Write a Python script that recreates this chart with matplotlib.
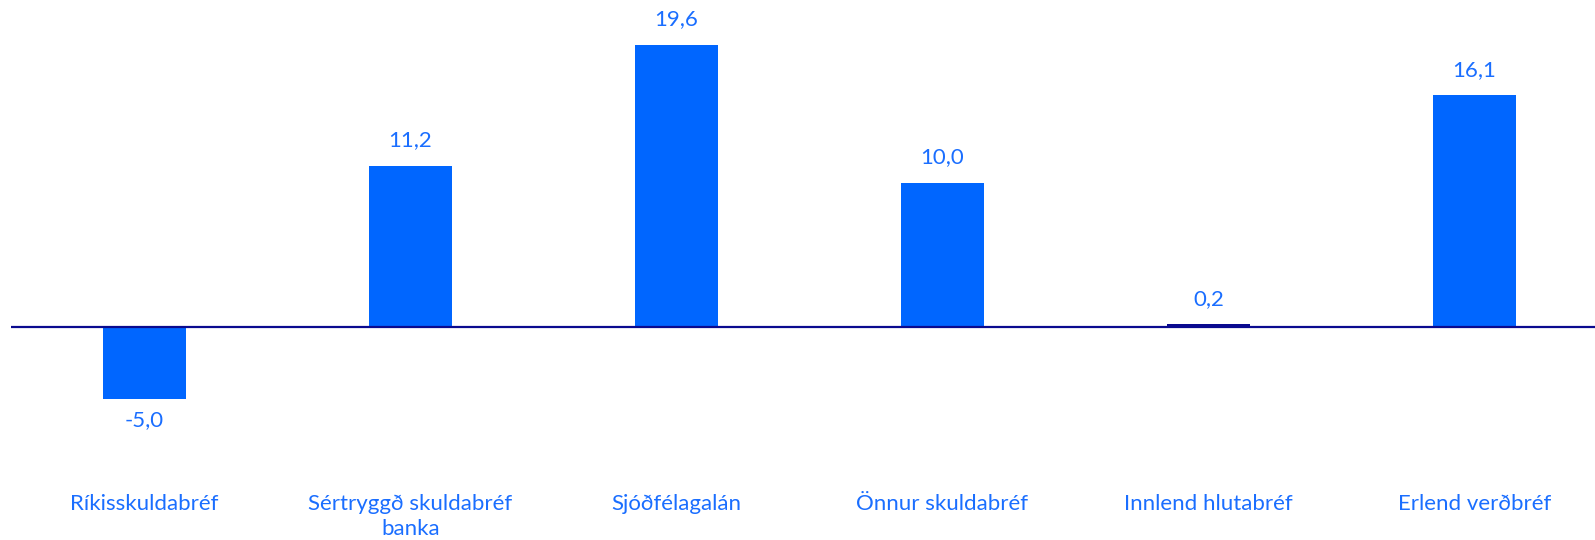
import matplotlib
matplotlib.use("Agg")
import matplotlib.pyplot as plt

# ── Gögn ─────────────────────────────────────────────────────────────
flokkar = ["Ríkisskuldabréf", "Sértryggð skuldabréf\nbanka", "Sjóðfélagalán",
           "Önnur skuldabréf", "Innlend hlutabréf", "Erlend verðbréf"]
gildi = [-5.0, 11.2, 19.6, 10.0, 0.2, 16.1]

BLAR = "#0066FF"
DOKKBLAR = "#0A0A8F"
TEXTI = "#1A6EFF"

plt.rcParams["font.family"] = ["Lato", "DejaVu Sans"]

fig = plt.figure(figsize=(15.95, 5.40), dpi=100)
ax = fig.add_axes([11.4 / 1595, 60 / 540, 1596 / 1595, 480 / 540])

x = list(range(len(flokkar)))
litir = [BLAR if abs(v) > 0.5 else DOKKBLAR for v in gildi]
ax.bar(x, gildi, width=0.315, color=litir, zorder=2)

# ── Gildi við stólpa ─────────────────────────────────────────────────
for xi, v in zip(x, gildi):
    ax.annotate(f"{v:.1f}".replace(".", ","), xy=(xi, v),
                xytext=(0, 25.5 if v >= 0 else -20.5), textcoords="offset pixels",
                ha="center", va="center", color=TEXTI, fontsize=16)

ax.axhline(0, color=DOKKBLAR, linewidth=1.6, zorder=3)

ax.set_xlim(-0.5, len(flokkar) - 0.5)
ax.set_ylim(-10.6, 22.7)
ax.set_xticks(x)
ax.set_xticklabels(flokkar, color=TEXTI, fontsize=16, linespacing=1.35)
ax.tick_params(axis="x", length=0, pad=10)
ax.set_yticks([])
for s in ax.spines.values():
    s.set_visible(False)

fig.savefig("out.png", dpi=100)
